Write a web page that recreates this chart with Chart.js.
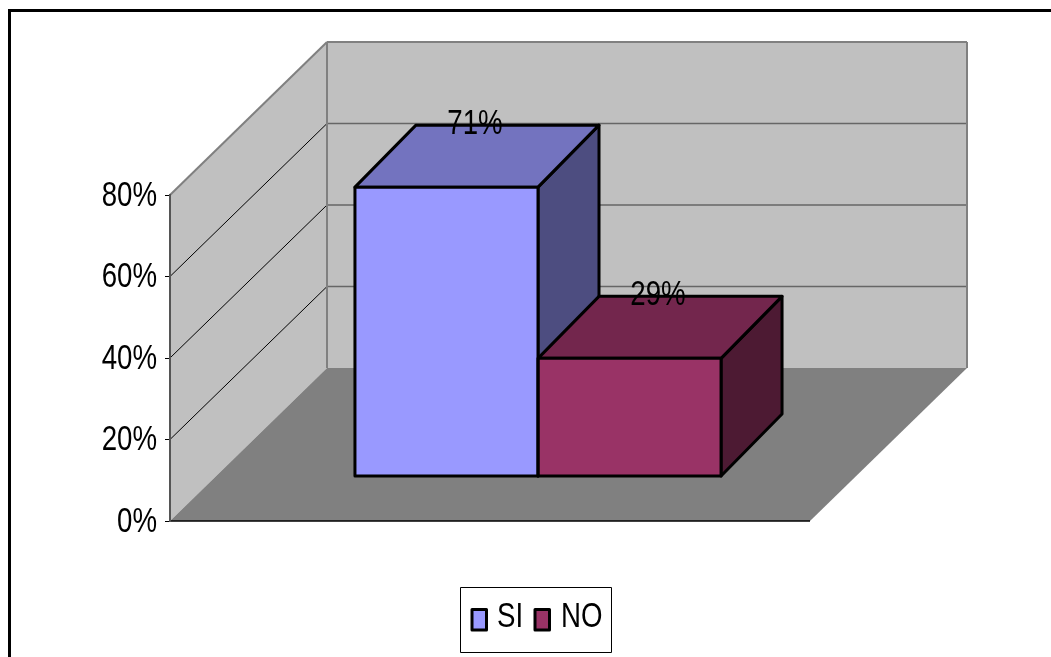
<!DOCTYPE html>
<html>
<head>
<meta charset="utf-8">
<title>SI / NO</title>
<script src="https://cdn.jsdelivr.net/npm/chart.js@4"></script>
<style>
  html, body { margin: 0; padding: 0; background: #fff; overflow: hidden; }
  #chart { display: block; }
</style>
</head>
<body>
<canvas id="chart" width="1051" height="657"></canvas>
<script>
// data
const categories = [''];
const seriesNames = ['SI', 'NO'];
const siValues = [71];
const noValues = [29];
const yTicks = [0, 20, 40, 60, 80];

const FONT = '"Liberation Sans", Arial, sans-serif';
const TEXT_SQUEEZE = 0.79;               // the original text is horizontally condensed
const depth = { dx: 157, dy: -153 };     // floor/wall depth
const barShift = { dx: 48, dy: -44.5 };  // bars sit in the middle of the floor
const barDepth = { dx: 61, dy: -62 };
const faces = [
  { front: '#9999FF', top: '#7373BF', side: '#4D4D80' },
  { front: '#993366', top: '#73264D', side: '#4D1A33' },
];

function poly(ctx, pts, fill, stroke, lw) {
  ctx.beginPath();
  pts.forEach((p, i) => i ? ctx.lineTo(p[0], p[1]) : ctx.moveTo(p[0], p[1]));
  ctx.closePath();
  if (fill) { ctx.fillStyle = fill; ctx.fill(); }
  if (stroke) { ctx.strokeStyle = stroke; ctx.lineWidth = lw; ctx.stroke(); }
}

function line(ctx, x1, y1, x2, y2, color, lw) {
  ctx.beginPath();
  ctx.moveTo(x1, y1);
  ctx.lineTo(x2, y2);
  ctx.strokeStyle = color;
  ctx.lineWidth = lw;
  ctx.stroke();
}

function barBox(chart, i) {
  const bar = chart.getDatasetMeta(i).data[0];
  return {
    l: bar.x - bar.width / 2 + barShift.dx,
    r: bar.x + bar.width / 2 + barShift.dx,
    t: bar.y + barShift.dy,
    b: bar.base + barShift.dy,
  };
}

const box3d = {
  id: 'box3d',
  // frame, walls and floor, under the axis
  beforeDraw(chart) {
    const { ctx, chartArea: a, scales: { y } } = chart;
    const y0 = y.getPixelForValue(0);
    const yMax = y.getPixelForValue(80);
    const bx = a.left + depth.dx;
    const rx = a.right + depth.dx;
    ctx.save();
    ctx.fillStyle = '#fff';
    ctx.fillRect(0, 0, chart.width, chart.height);
    line(ctx, 9.5, 10, 9.5, chart.height, '#000', 3);
    line(ctx, 8, 10.5, chart.width, 10.5, '#000', 3);

    poly(ctx, [[a.left, yMax], [bx, yMax + depth.dy], [bx, y0 + depth.dy], [a.left, y0]], '#C0C0C0');
    poly(ctx, [[bx, yMax + depth.dy], [rx, yMax + depth.dy], [rx, y0 + depth.dy], [bx, y0 + depth.dy]], '#C0C0C0');
    poly(ctx, [[a.left, y0], [a.right, y0], [rx, y0 + depth.dy], [bx, y0 + depth.dy]], '#808080');

    yTicks.filter(t => t > 0 && t < 80).forEach(t => {
      const py = y.getPixelForValue(t);
      line(ctx, a.left, py, bx, py + depth.dy, '#000', 1);
      line(ctx, bx, py + depth.dy, rx, py + depth.dy, '#666', 1.5);
    });
    line(ctx, a.left, yMax, bx, yMax + depth.dy, '#808080', 2);
    line(ctx, bx, yMax + depth.dy, rx, yMax + depth.dy, '#808080', 2);
    line(ctx, bx, yMax + depth.dy, bx, y0 + depth.dy, '#808080', 2);
    line(ctx, rx, yMax + depth.dy, rx, y0 + depth.dy, '#808080', 2);
    line(ctx, a.left, y0, a.right, y0, '#000', 1.5);
    ctx.restore();
  },
  // top and side of each bar
  beforeDatasetsDraw(chart) {
    const { ctx } = chart;
    ctx.save();
    ctx.lineJoin = 'round';
    chart.data.datasets.forEach((ds, i) => {
      const { l, r, t, b } = barBox(chart, i);
      poly(ctx, [[r, t], [r + barDepth.dx, t + barDepth.dy], [r + barDepth.dx, b + barDepth.dy], [r, b]], faces[i].side, '#000', 3);
      poly(ctx, [[l, t], [l + barDepth.dx, t + barDepth.dy], [r + barDepth.dx, t + barDepth.dy], [r, t]], faces[i].top, '#000', 3);
    });
    ctx.restore();
  },
  beforeDatasetDraw(chart) {
    chart.ctx.save();
    chart.ctx.translate(barShift.dx, barShift.dy);
  },
  afterDatasetDraw(chart) {
    chart.ctx.restore();
  },
  // front outlines, value labels and legend
  afterDatasetsDraw(chart) {
    const { ctx } = chart;
    ctx.save();
    ctx.lineJoin = 'round';
    chart.data.datasets.forEach((ds, i) => {
      const { l, r, t, b } = barBox(chart, i);
      poly(ctx, [[l, t], [r, t], [r, b], [l, b]], null, '#000', 3);
    });

    ctx.font = '35px ' + FONT;
    ctx.fillStyle = '#000';
    ctx.textBaseline = 'middle';
    ctx.textAlign = 'center';
    chart.data.datasets.forEach((ds, i) => {
      const { l, r, t } = barBox(chart, i);
      ctx.fillText(ds.data[0] + '%', (l + r) / 2 + 28.5, t - 64);
    });

    ctx.fillStyle = '#fff';
    ctx.fillRect(460.5, 587.5, 151, 65);
    ctx.strokeStyle = '#000';
    ctx.lineWidth = 1;
    ctx.strokeRect(460.5, 587.5, 151, 65);
    ctx.textAlign = 'left';
    [[472, 497], [535, 561]].forEach((pos, i) => {
      ctx.fillStyle = faces[i].front;
      ctx.fillRect(pos[0], 609.5, 14.5, 20.5);
      ctx.lineWidth = 3;
      ctx.strokeRect(pos[0], 609.5, 14.5, 20.5);
      ctx.fillStyle = '#000';
      ctx.fillText(seriesNames[i], pos[1], 616);
    });
    ctx.restore();
  },
};

const canvas = document.getElementById('chart');
const context = canvas.getContext('2d');
const plainFillText = context.fillText.bind(context);
context.fillText = (text, x, y) => {
  context.save();
  context.translate(x, y + 1);
  context.scale(TEXT_SQUEEZE, 1);
  plainFillText(text, 0, 0);
  context.restore();
};

new Chart(canvas, {
  type: 'bar',
  data: {
    labels: categories,
    datasets: [
      { label: seriesNames[0], data: siValues, backgroundColor: faces[0].front },
      { label: seriesNames[1], data: noValues, backgroundColor: faces[1].front },
    ],
  },
  plugins: [box3d],
  options: {
    responsive: false,
    animation: false,
    devicePixelRatio: 1,
    categoryPercentage: 0.572,
    barPercentage: 1,
    layout: { padding: { left: 0, top: 195, right: 241, bottom: 136 } },
    plugins: {
      legend: { display: false },
      tooltip: { enabled: false },
    },
    scales: {
      x: { display: false },
      y: {
        min: 0,
        max: 80,
        afterFit: scale => { scale.width = 170; },
        afterBuildTicks: scale => { scale.ticks = yTicks.map(v => ({ value: v })); },
        ticks: {
          callback: v => v + '%',
          color: '#000',
          padding: 8,
          font: { family: FONT, size: 35 },
        },
        border: { color: '#555', width: 2 },
        grid: { drawOnChartArea: false, color: '#000', tickLength: 5 },
      },
    },
  },
});
</script>
</body>
</html>
